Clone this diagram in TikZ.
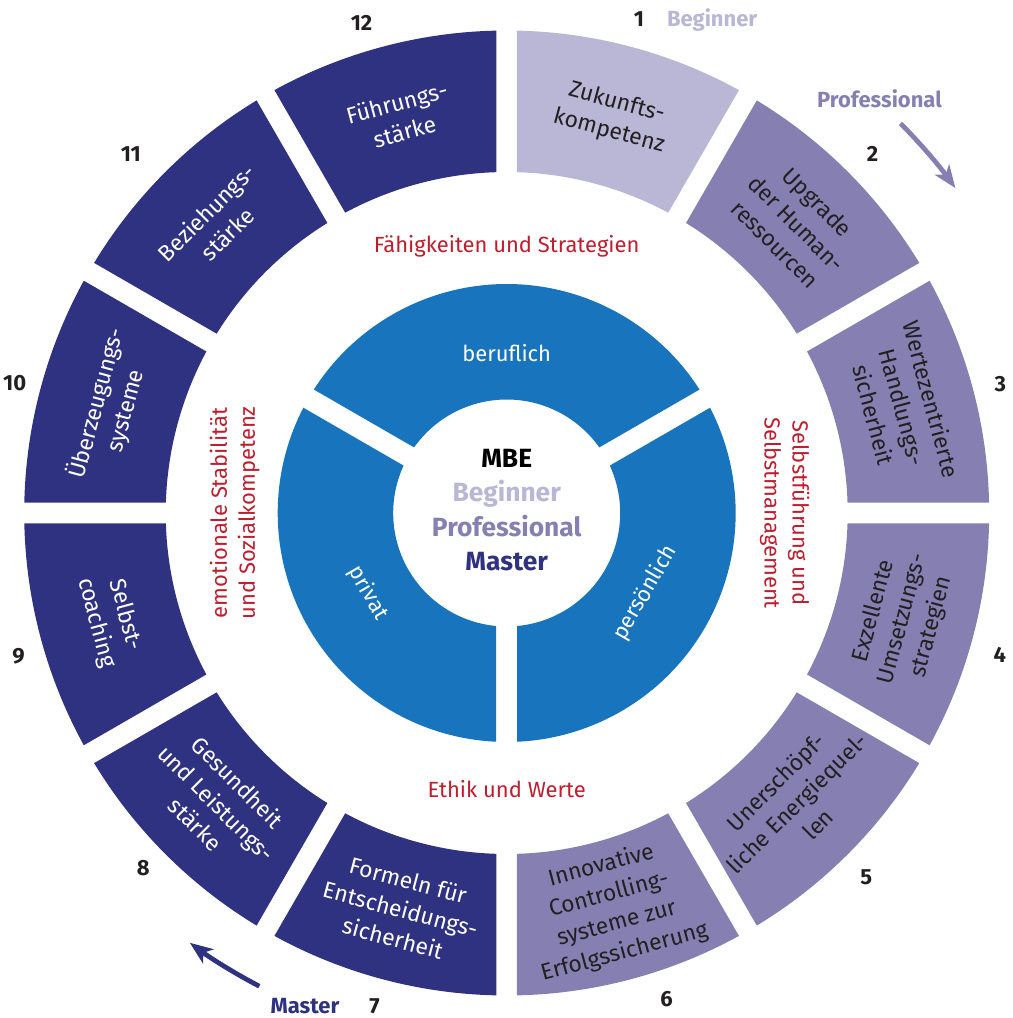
\documentclass[tikz,border=0pt]{standalone}
\usepackage{fontspec}
\setmainfont{Fira Sans}
\usetikzlibrary{arrows.meta,positioning}

\definecolor{lilac}{HTML}{B9B6D6}
\definecolor{profcol}{HTML}{8680B2}
\definecolor{navy}{HTML}{2F3181}
\definecolor{ringblue}{HTML}{1874BC}
\definecolor{mbered}{HTML}{BE1E2D}
\definecolor{ink}{HTML}{231F20}

\tikzset{
  segtext/.style={font=\fontsize{13}{17}\selectfont, align=center, inner sep=0pt},
  redtext/.style={text=mbered, font=\fontsize{12.5}{16}\selectfont, align=center},
  ringtext/.style={text=white, font=\fontsize{12.5}{15}\selectfont},
  num/.style={text=ink, font=\bfseries\fontsize{12.5}{15}\selectfont},
  levellab/.style={font=\bfseries\fontsize{12.5}{15}\selectfont},
  arrowline/.style={line width=2.7pt, -{Stealth[length=13pt, width=10pt, inset=3.5pt]}}
}

\begin{document}
\begin{tikzpicture}[x=0.02cm, y=0.02cm]
  \useasboundingbox (-506.7,-505) rectangle (505.3,513);
  \pgfmathsetmacro\rout{482.5}
  \pgfmathsetmacro\rin{341}
  \pgfmathsetmacro\dout{asin(10.3/\rout)}
  \pgfmathsetmacro\din{asin(10.3/\rin)}

  % outer ring: twelve parts, clockwise from the top
  \foreach \k/\col/\tcol/\npos/\txt in {
      1/lilac/ink/75:511/{Zukunfts-\\kompetenz},
      2/profcol/ink/44.5:513/{Upgrade\\der Human-\\ressourcen},
      3/profcol/ink/14.6:510/{Wertezentrierte\\Handlungs-\\sicherheit},
      4/profcol/ink/-16:513/{Exzellente\\Umsetzungs-\\strategien},
      5/profcol/ink/-45.4:512/{Unerschöpf-\\liche Energiequel-\\len},
      6/profcol/ink/-71.8:512/{Innovative\\Controlling-\\systeme zur\\Erfolgssicherung},
      7/navy/white/-105:511/{Formeln für\\Entscheidungs-\\sicherheit},
      8/navy/white/224.3:508/{Gesundheit\\und Leistungs-\\stärke},
      9/navy/white/196.4:509/{Selbst-\\coaching},
      10/navy/white/165.2:509/{Überzeugungs-\\systeme},
      11/navy/white/136.3:520/{Beziehungs-\\stärke},
      12/navy/white/106.5:511/{Führungs-\\stärke}}{
    \pgfmathsetmacro\aa{90-30*\k}
    \pgfmathsetmacro\ab{120-30*\k}
    \pgfmathsetmacro\mid{105-30*\k}
    \pgfmathsetmacro\rot{sin(\mid)>0 ? \mid-90 : \mid+90}
    \fill[\col] (\aa+\dout:\rout) arc[start angle=\aa+\dout, end angle=\ab-\dout, radius=\rout]
      -- (\ab-\din:\rin) arc[start angle=\ab-\din, end angle=\aa+\din, radius=\rin] -- cycle;
    \node[segtext, text=\tcol, rotate=\rot] (seg\k) at (\mid:410) {\txt};
    \node[num] (n\k) at (\npos) {\k};
  }

  % inner blue ring
  \pgfmathsetmacro\bout{229}
  \pgfmathsetmacro\bin{113.5}
  \pgfmathsetmacro\dbout{asin(10.5/\bout)}
  \pgfmathsetmacro\dbin{asin(10.5/\bin)}
  \foreach \a/\b/\lab/\txt in {30/150/ber/beruflich, -90/30/per/persönlich, 150/270/pri/privat}{
    \pgfmathsetmacro\mid{(\a+\b)/2}
    \pgfmathsetmacro\rot{sin(\mid)>0 ? \mid-90 : \mid+90}
    \fill[ringblue] (\a+\dbout:\bout) arc[start angle=\a+\dbout, end angle=\b-\dbout, radius=\bout]
      -- (\b-\dbin:\bin) arc[start angle=\b-\dbin, end angle=\a+\dbin, radius=\bin] -- cycle;
    \node[ringtext, rotate=\rot] (\lab) at (\mid:160) {\txt};
  }

  % centre
  \node[align=center, font=\bfseries\fontsize{15}{19.5}\selectfont] (mbe) at (0,3)
    {MBE\\\textcolor{lilac}{Beginner}\\\textcolor{profcol}{Professional}\\\textcolor{navy}{Master}};

  % red labels between the rings
  \node[redtext] (top) at (90:267) {Fähigkeiten und Strategien};
  \node[redtext] (bottom) at (-90:276) {Ethik und Werte};
  \node[redtext, rotate=-90] (right) at (0:278) {Selbstführung und\\Selbstmanagement};
  \node[redtext, rotate=90] (left) at (180:272) {emotionale Stabilität\\und Sozialkompetenz};

  % levels
  \node[levellab, text=lilac, base right=6pt of n1] (beginner) {Beginner};
  \node[levellab, text=profcol] (professional) at (372.8,414.7) {Professional};
  \node[levellab, text=navy, base left=10pt of n7] (master) {Master};
  \coordinate (profstart) at (44.7:554);
  \draw[arrowline, profcol] (profstart) arc[start angle=44.7, end angle=35.9, radius=554];
  \coordinate (masterstart) at (242.4:534);
  \draw[arrowline, navy] (masterstart) arc[start angle=242.4, end angle=233.6, radius=534];
\end{tikzpicture}
\end{document}
